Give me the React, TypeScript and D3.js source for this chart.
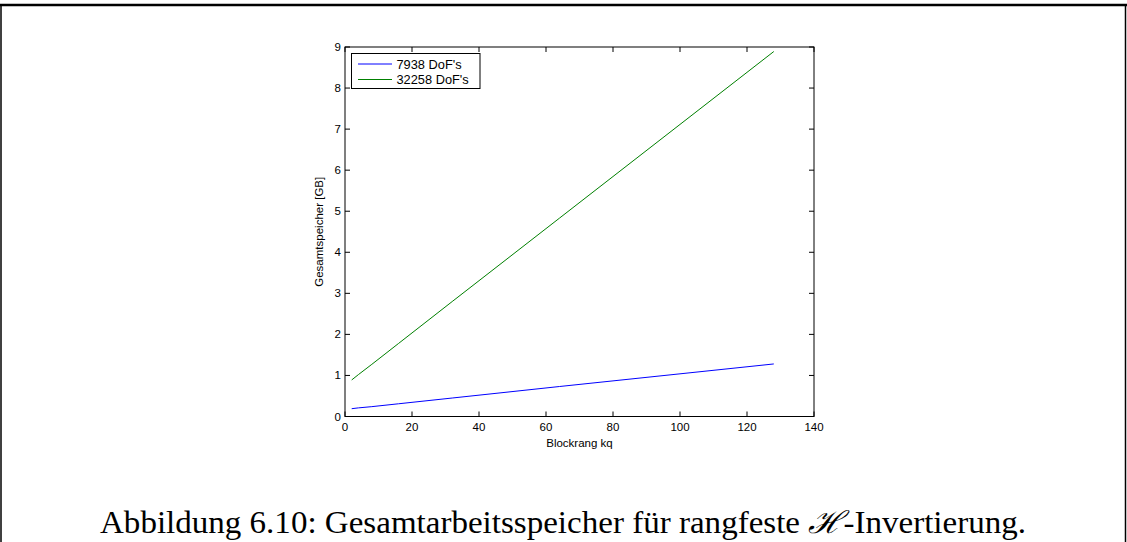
import React from "react";
import * as d3 from "d3";

const xTicks = [0, 20, 40, 60, 80, 100, 120, 140];
const yTicks = [0, 1, 2, 3, 4, 5, 6, 7, 8, 9];
const blockRank = [2, 4, 8, 16, 32, 64, 128];
const dof7938 = [0.19, 0.21, 0.24, 0.31, 0.45, 0.73, 1.28];
const dof32258 = [0.89, 1.02, 1.27, 1.78, 2.8, 4.83, 8.89];
const seriesNames = ["7938 DoF's", "32258 DoF's"];
const seriesColors = ["#0000ff", "#008000"];

export default function App() {
  const W = 1127, H = 542;
  const left = 345, right = 814, top = 47, bottom = 416.5;
  const x = d3.scaleLinear().domain([0, 140]).range([left, right]);
  const y = d3.scaleLinear().domain([0, 9]).range([bottom, top]);
  const line = d3.line<[number, number]>().x(d => x(d[0])).y(d => y(d[1]));
  const series = [dof7938, dof32258];
  const font = "'Liberation Sans', Arial, sans-serif";
  const tl = 5;
  return (
    <svg width={W} height={H} style={{ position: "absolute", left: 0, top: 0 }}>
      <rect x={0} y={0} width={W} height={H} fill="#fff" />
      <line x1={0} y1={5} x2={W} y2={5} stroke="#000" strokeWidth={2.5} />
      <line x1={1} y1={5} x2={1} y2={H} stroke="#000" strokeWidth={1.5} />
      <line x1={1125.5} y1={5} x2={1125.5} y2={H} stroke="#000" strokeWidth={1.5} />
      {series.map((s, i) => (
        <path key={i} d={line(blockRank.map((k, j) => [k, s[j]]) as [number, number][]) || ""}
          fill="none" stroke={seriesColors[i]} strokeWidth={1} />
      ))}
      <rect x={left} y={top} width={right - left} height={bottom - top} fill="none" stroke="#000" strokeWidth={1} />
      {xTicks.map(t => (
        <g key={"x" + t}>
          <line x1={x(t)} x2={x(t)} y1={bottom} y2={bottom - tl} stroke="#000" />
          <line x1={x(t)} x2={x(t)} y1={top} y2={top + tl} stroke="#000" />
          <text x={x(t)} y={bottom + 14} textAnchor="middle" fontFamily={font} fontSize={11.5}>{t}</text>
        </g>
      ))}
      {yTicks.map(t => (
        <g key={"y" + t}>
          <line x1={left} x2={left + tl} y1={y(t)} y2={y(t)} stroke="#000" />
          <line x1={right} x2={right - tl} y1={y(t)} y2={y(t)} stroke="#000" />
          <text x={left - 4} y={y(t) + 4} textAnchor="end" fontFamily={font} fontSize={11.5}>{t}</text>
        </g>
      ))}
      <text x={(left + right) / 2} y={bottom + 30} textAnchor="middle" fontFamily={font} fontSize={11.5}>Blockrang kq</text>
      <text transform={`translate(${left - 22},${(top + bottom) / 2}) rotate(-90)`} textAnchor="middle" fontFamily={font} fontSize={11.5}>Gesamtspeicher [GB]</text>
      <rect x={351.5} y={53.5} width={128.5} height={35} fill="#fff" stroke="#000" strokeWidth={1} />
      {seriesNames.map((n, i) => (
        <g key={n}>
          <line x1={358} x2={392} y1={64 + i * 15.5} y2={64 + i * 15.5} stroke={seriesColors[i]} />
          <text x={396.5} y={68.5 + i * 15.5} fontFamily={font} fontSize={12.8}>{n}</text>
        </g>
      ))}
      <text x={100} y={533} textAnchor="start" textLength={926} lengthAdjust="spacingAndGlyphs"
        fontFamily="'Liberation Serif', 'DejaVu Serif', serif" fontSize={31}>
        Abbildung 6.10: Gesamtarbeitsspeicher für rangfeste <tspan fontStyle="italic">ℋ</tspan>-Invertierung.
      </text>
    </svg>
  );
}
